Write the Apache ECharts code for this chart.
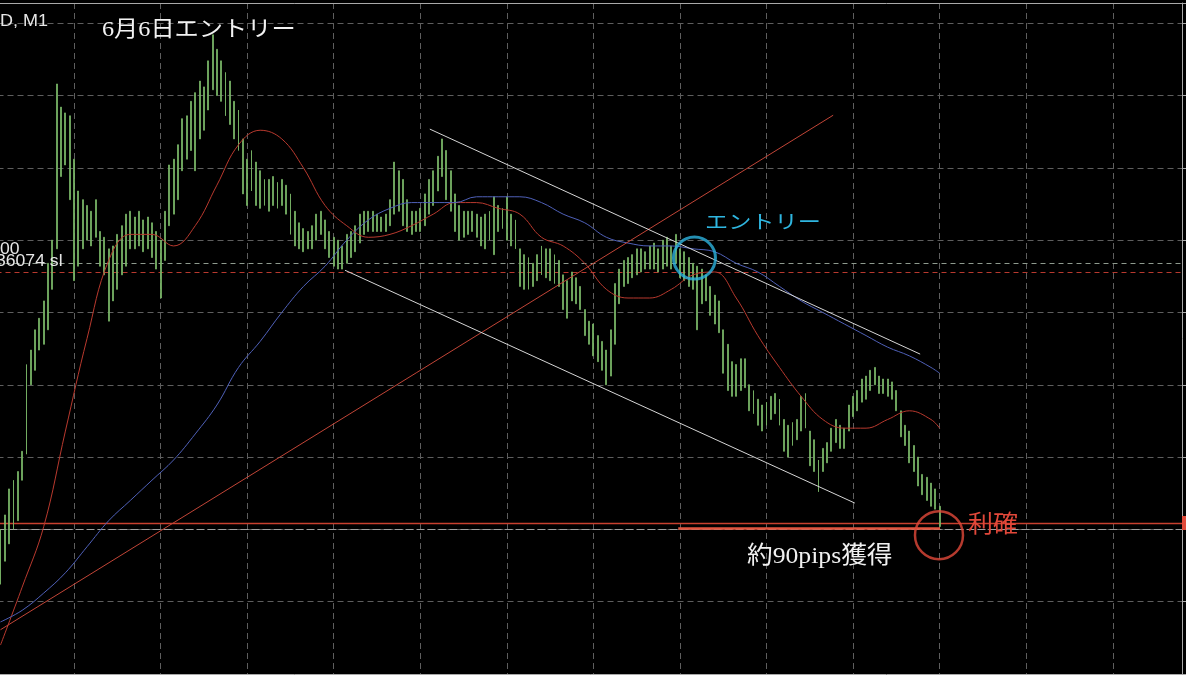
<!DOCTYPE html>
<html><head><meta charset="utf-8">
<script src="https://cdn.jsdelivr.net/npm/echarts@6/dist/echarts.min.js"></script>
<style>html,body{margin:0;padding:0;background:#000;overflow:hidden}#c{width:1186px;height:675px}</style>
</head><body><div id="c"></div>
<script>
// ---- data (prices) ----
const firstBar = 3;
const barHigh = [
 107.50,107.55,107.64,107.67,107.70,107.77,108.07,108.12,108.19,108.23,
 108.29,108.42,108.50,109.04,108.96,108.94,108.93,108.78,108.67,108.64,
 108.62,108.60,108.64,108.53,108.51,108.47,108.48,108.52,108.55,108.59,
 108.60,108.58,108.60,108.57,108.58,108.56,108.53,108.50,108.60,108.76,
 108.78,108.83,108.92,108.93,108.98,109.01,109.05,109.03,109.12,109.21,
 109.16,109.12,109.08,109.05,108.98,108.95,108.85,108.78,108.81,108.77,
 108.74,108.71,108.71,108.72,108.70,108.71,108.69,108.66,108.60,108.56,
 108.54,108.53,108.55,108.59,108.60,108.57,108.53,108.51,108.50,108.48,
 108.52,108.53,108.55,108.59,108.60,108.60,108.60,108.59,108.58,108.59,
 108.64,108.77,108.74,108.71,108.64,108.60,108.60,108.61,108.66,108.71,
 108.74,108.79,108.85,108.81,108.74,108.66,108.62,108.60,108.60,108.60,
 108.59,108.58,108.59,108.60,108.65,108.62,108.61,108.65,108.59,108.57,
 108.47,108.45,108.44,108.42,108.45,108.48,108.47,108.47,108.45,108.43,
 108.38,108.36,108.39,108.37,108.34,108.26,108.22,108.21,108.17,108.15,
 108.12,108.19,108.35,108.40,108.43,108.44,108.45,108.47,108.47,108.46,
 108.48,108.49,108.47,108.50,108.51,108.48,108.52,108.47,108.46,108.44,
 108.42,108.41,108.40,108.38,108.34,108.31,108.29,108.19,108.14,108.08,
 108.07,108.09,108.09,108.00,107.98,107.95,107.93,107.94,107.96,107.97,
 107.95,107.88,107.86,107.87,107.88,107.96,107.97,107.84,107.81,107.74,
 107.78,107.80,107.85,107.88,107.86,107.85,107.93,107.96,107.98,108.02,
 108.03,108.05,108.06,108.03,108.02,108.02,108.01,107.98,107.91,107.86,
 107.84,107.79,107.75,107.69,107.68,107.66,107.64,107.58
];
const barLow = [
 107.31,107.39,107.45,107.50,107.53,107.67,107.76,108.00,108.05,108.12,
 108.14,108.19,108.33,108.47,108.72,108.76,108.64,108.36,108.41,108.47,
 108.50,108.48,108.51,108.41,108.38,108.22,108.29,108.33,108.38,108.41,
 108.47,108.47,108.48,108.46,108.47,108.44,108.40,108.30,108.43,108.55,
 108.59,108.64,108.74,108.78,108.81,108.74,108.85,108.88,108.95,109.02,
 109.00,108.98,108.93,108.90,108.85,108.81,108.66,108.62,108.67,108.62,
 108.61,108.62,108.60,108.62,108.61,108.62,108.59,108.52,108.48,108.47,
 108.46,108.47,108.47,108.50,108.52,108.47,108.44,108.41,108.40,108.40,
 108.42,108.44,108.46,108.49,108.52,108.53,108.53,108.53,108.53,108.53,
 108.55,108.59,108.60,108.55,108.53,108.52,108.53,108.53,108.55,108.59,
 108.62,108.67,108.72,108.64,108.60,108.53,108.50,108.51,108.52,108.53,
 108.51,108.48,108.47,108.50,108.45,108.53,108.54,108.50,108.48,108.47,
 108.34,108.33,108.33,108.34,108.36,108.38,108.37,108.36,108.35,108.34,
 108.26,108.23,108.29,108.28,108.26,108.17,108.14,108.10,108.08,108.05,
 108.00,108.03,108.14,108.28,108.34,108.35,108.37,108.38,108.39,108.40,
 108.40,108.40,108.39,108.40,108.41,108.40,108.42,108.37,108.36,108.34,
 108.33,108.19,108.28,108.29,108.24,108.21,108.18,108.04,107.98,107.96,
 107.96,107.98,107.99,107.91,107.90,107.86,107.84,107.86,107.88,107.90,
 107.86,107.77,107.75,107.79,107.81,107.84,107.85,107.72,107.70,107.63,
 107.70,107.73,107.77,107.80,107.78,107.78,107.84,107.89,107.91,107.94,
 107.95,107.98,108.00,107.97,107.97,107.96,107.95,107.91,107.82,107.79,
 107.73,107.70,107.65,107.62,107.60,107.58,107.57,107.51
];
const maBars = [3,8,13,18,23,28,33,38,43,48,53,58,63,68,73,78,83,88,93,98,103,108,113,118,123,128,133,138,143,148,153,158,163,168,173,178,183,188,193,198,203,208,213,218,220];
const maFast = [107.10,107.30,107.51,107.84,108.16,108.43,108.52,108.52,108.48,108.55,108.69,108.83,108.88,108.85,108.75,108.62,108.55,108.51,108.52,108.55,108.59,108.63,108.63,108.61,108.59,108.51,108.48,108.42,108.33,108.30,108.30,108.33,108.38,108.39,108.30,108.17,108.06,107.96,107.88,107.85,107.85,107.88,107.91,107.88,107.85];
const maSlow = [107.18,107.22,107.28,107.35,107.44,107.53,107.60,107.67,107.74,107.83,107.93,108.06,108.15,108.25,108.34,108.41,108.50,108.57,108.61,108.63,108.63,108.63,108.65,108.65,108.65,108.63,108.59,108.56,108.51,108.49,108.48,108.48,108.47,108.46,108.42,108.39,108.34,108.29,108.25,108.21,108.17,108.13,108.10,108.06,108.04];
const trendRed = [[3, 107.153], [195.4, 108.932]];
const channelUpper = [[102.2, 108.884], [215.5, 108.106]];
const channelLower = [[82.6, 108.396], [200.4, 107.591]];
const orderLevel = 108.424;
const slLevel = 108.393;
const tpLevel = 107.52;
const bidLevel = 107.50;
const gainSegment = [[159.6, 107.503], [220.1, 107.503]];
const entryPoint = [163.35, 108.438];
const exitPoint = [219.85, 107.48];
const yRange = [107, 109.32], yStep = 0.25;
const xRange = [0, 276], xStep = 20;

// ---- chart ----
const chart = echarts.init(document.getElementById('c'), null, {renderer: 'canvas'});
const candles = barHigh.map((h, i) => [firstBar + i, barLow[i], h, barLow[i], h]);
const GREEN = '#78b567';
const gridLine = {show: true, lineStyle: {color: '#5e5e5e', type: [6, 4], width: 1}};
const border = {show: true, onZero: false, lineStyle: {color: '#a9a9a9', width: 1}};
const seg = (pts) => pts.map(p => [p[0], p[1]]);
const txt = (s, x, y, sx, font, fill) => ({type: 'text', x: x, y: y, scaleX: sx, silent: true, z: 100,
  style: {text: s, fill: fill, font: font, align: 'left', verticalAlign: 'middle', textAlign: 'left', textVerticalAlign: 'middle'}});
const level = (v, color, type, width) => ({yAxis: v, lineStyle: {color: color, type: type, width: width}});

chart.setOption({
  animation: false,
  backgroundColor: '#000',
  grid: {left: -12.5, right: 4, top: 3, bottom: 1, containLabel: false, outerBoundsMode: 'none'},
  xAxis: [
    {type: 'value', min: xRange[0], max: xRange[1], interval: xStep, position: 'bottom',
     axisLine: border, axisTick: {show: false}, axisLabel: {show: false}, splitLine: gridLine},
    {type: 'value', min: xRange[0], max: xRange[1], interval: xStep, position: 'top',
     axisLine: border, axisTick: {show: false}, axisLabel: {show: false}, splitLine: {show: false}}
  ],
  yAxis: {type: 'value', min: yRange[0], max: yRange[1], interval: yStep, position: 'right', scale: true,
    axisLine: border, axisTick: {show: true, length: 4, lineStyle: {color: '#a9a9a9'}},
    axisLabel: {show: false}, splitLine: gridLine},
  series: [
    {type: 'line', name: 'levels', data: [], z: 1, silent: true,
     markLine: {silent: true, symbol: 'none', label: {show: false}, animation: false, z: 1,
       data: [
         level(orderLevel, '#8e9a8e', [5, 4], 1),
         level(slLevel, '#b8392e', [5, 4], 1),
         level(bidLevel, '#a0a0a0', [8, 3], 1.2),
         level(tpLevel, '#c8402f', 'solid', 1.3)
       ]}},
    {type: 'candlestick', name: 'price', data: candles, encode: {x: 0, y: [1, 2, 3, 4]},
     barWidth: 1.4, silent: true, z: 3,
     itemStyle: {color: GREEN, color0: GREEN, borderColor: GREEN, borderColor0: GREEN, borderWidth: 0.8}},
    {type: 'line', name: 'MA fast', data: maBars.map((b, i) => [b, maFast[i]]), smooth: 0.4, z: 4,
     showSymbol: false, silent: true, lineStyle: {color: '#b8392e', width: 1}},
    {type: 'line', name: 'MA slow', data: maBars.map((b, i) => [b, maSlow[i]]), smooth: 0.4, z: 4,
     showSymbol: false, silent: true, lineStyle: {color: '#4f60b8', width: 1}},
    {type: 'line', name: 'trend', data: seg(trendRed), showSymbol: false, silent: true, z: 5,
     lineStyle: {color: '#c24537', width: 1}},
    {type: 'line', name: 'channel upper', data: seg(channelUpper), showSymbol: false, silent: true, z: 5,
     lineStyle: {color: '#d6d6d6', width: 1}},
    {type: 'line', name: 'channel lower', data: seg(channelLower), showSymbol: false, silent: true, z: 5,
     lineStyle: {color: '#d6d6d6', width: 1}},
    {type: 'line', name: 'gain', data: seg(gainSegment), showSymbol: false, silent: true, z: 20,
     lineStyle: {color: '#e2553f', width: 2.5, type: 'solid'}},
    {type: 'scatter', name: 'entry', data: [entryPoint], symbol: 'circle', symbolSize: 42, silent: true, z: 21,
     itemStyle: {color: 'rgba(0,0,0,0)', borderColor: '#2db3df', borderWidth: 3}},
    {type: 'scatter', name: 'exit', data: [exitPoint], symbol: 'circle', symbolSize: 48, silent: true, z: 21,
     itemStyle: {color: 'rgba(0,0,0,0)', borderColor: '#e2483a', borderWidth: 2.5}}
  ],
  graphic: [
    txt('D, M1', 0, 21, 1.06, '17px "Liberation Sans", Arial, sans-serif', '#e6e6e6'),
    txt('00', 0, 250, 1.1, '16px "Liberation Sans", Arial, sans-serif', '#e6e6e6'),
    txt('36074 sl', -4, 262, 1.1, '16px "Liberation Sans", Arial, sans-serif', '#e6e6e6'),
    txt('6月6日エントリー', 102, 30, 1.1, '22px "Liberation Serif", "Noto Sans CJK JP", serif', '#f2f2f2'),
    txt('エントリー', 705, 222, 1.22, '19px "Noto Sans CJK JP", sans-serif', '#2fb6e0'),
    txt('利確', 968, 523, 1.04, '24px "Noto Sans CJK JP", serif', '#e2483a'),
    txt('約90pips獲得', 747, 557, 1.07, '24px "Liberation Serif", "Noto Sans CJK JP", serif', '#f0f0f0'),
    {type: 'rect', x: 1182, y: 516, silent: true, z: 100, shape: {width: 4, height: 14}, style: {fill: '#e04a3a'}}
  ]
});
</script>
</body></html>
